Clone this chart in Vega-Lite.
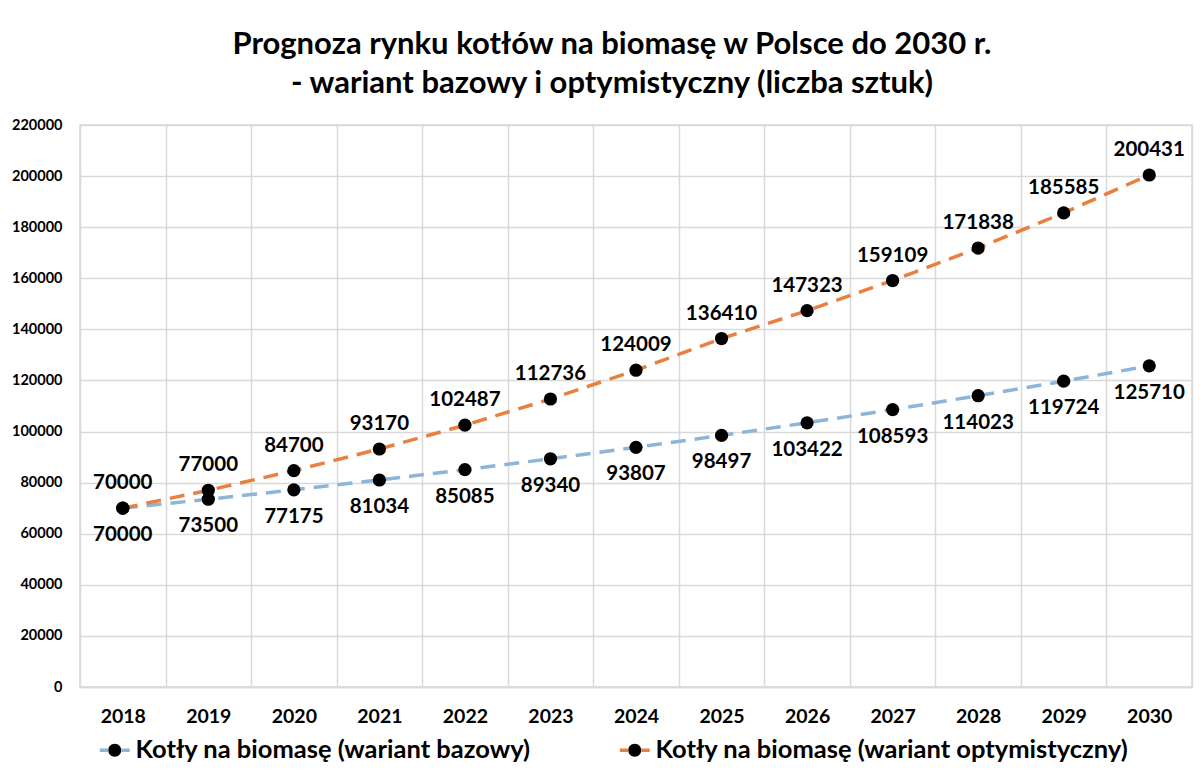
{
  "$schema": "https://vega.github.io/schema/vega-lite/v6.json",
  "width": 1112,
  "height": 562,
  "autosize": {"type": "none"},
  "padding": {"left": 80, "top": 125, "right": 12, "bottom": 95},
  "background": "white",
  "config": {
    "font": "Lato",
    "view": {"stroke": "#d9d9d9", "strokeWidth": 1.5}
  },
  "title": {
    "text": ["Prognoza rynku kotłów na biomasę  w Polsce do 2030 r.", "- wariant bazowy i optymistyczny (liczba sztuk)"],
    "font": "Lato",
    "fontSize": 31,
    "fontWeight": "bold",
    "color": "#000000",
    "anchor": "middle",
    "frame": "group",
    "dx": -24,
    "offset": 17,
    "lineHeight": 39
  },
  "data": {
    "values": [
      {"year": "2018", "series": "Kotły na biomasę (wariant bazowy)", "value": 70000},
      {"year": "2019", "series": "Kotły na biomasę (wariant bazowy)", "value": 73500},
      {"year": "2020", "series": "Kotły na biomasę (wariant bazowy)", "value": 77175},
      {"year": "2021", "series": "Kotły na biomasę (wariant bazowy)", "value": 81034},
      {"year": "2022", "series": "Kotły na biomasę (wariant bazowy)", "value": 85085},
      {"year": "2023", "series": "Kotły na biomasę (wariant bazowy)", "value": 89340},
      {"year": "2024", "series": "Kotły na biomasę (wariant bazowy)", "value": 93807},
      {"year": "2025", "series": "Kotły na biomasę (wariant bazowy)", "value": 98497},
      {"year": "2026", "series": "Kotły na biomasę (wariant bazowy)", "value": 103422},
      {"year": "2027", "series": "Kotły na biomasę (wariant bazowy)", "value": 108593},
      {"year": "2028", "series": "Kotły na biomasę (wariant bazowy)", "value": 114023},
      {"year": "2029", "series": "Kotły na biomasę (wariant bazowy)", "value": 119724},
      {"year": "2030", "series": "Kotły na biomasę (wariant bazowy)", "value": 125710},
      {"year": "2018", "series": "Kotły na biomasę (wariant optymistyczny)", "value": 70000},
      {"year": "2019", "series": "Kotły na biomasę (wariant optymistyczny)", "value": 77000},
      {"year": "2020", "series": "Kotły na biomasę (wariant optymistyczny)", "value": 84700},
      {"year": "2021", "series": "Kotły na biomasę (wariant optymistyczny)", "value": 93170},
      {"year": "2022", "series": "Kotły na biomasę (wariant optymistyczny)", "value": 102487},
      {"year": "2023", "series": "Kotły na biomasę (wariant optymistyczny)", "value": 112736},
      {"year": "2024", "series": "Kotły na biomasę (wariant optymistyczny)", "value": 124009},
      {"year": "2025", "series": "Kotły na biomasę (wariant optymistyczny)", "value": 136410},
      {"year": "2026", "series": "Kotły na biomasę (wariant optymistyczny)", "value": 147323},
      {"year": "2027", "series": "Kotły na biomasę (wariant optymistyczny)", "value": 159109},
      {"year": "2028", "series": "Kotły na biomasę (wariant optymistyczny)", "value": 171838},
      {"year": "2029", "series": "Kotły na biomasę (wariant optymistyczny)", "value": 185585},
      {"year": "2030", "series": "Kotły na biomasę (wariant optymistyczny)", "value": 200431}
    ]
  },
  "encoding": {
    "x": {
      "field": "year",
      "type": "ordinal",
      "bandPosition": 0.5,
      "scale": {"type": "band", "paddingInner": 0, "paddingOuter": 0},
      "axis": {
        "title": null,
        "tickBand": "extent",
        "grid": true,
        "gridColor": "#d9d9d9",
        "gridWidth": 1.5,
        "ticks": false,
        "tickSize": 0,
        "domain": true,
        "domainColor": "#d9d9d9",
        "domainWidth": 1.5,
        "labelAngle": 0,
        "labelFont": "Lato",
        "labelFontSize": 19.5,
        "labelFontWeight": "bold",
        "labelColor": "#000000",
        "labelPadding": 20
      }
    },
    "y": {
      "field": "value",
      "type": "quantitative",
      "scale": {"domain": [0, 220000], "nice": false},
      "axis": {
        "title": null,
        "values": [0, 20000, 40000, 60000, 80000, 100000, 120000, 140000, 160000, 180000, 200000, 220000],
        "format": "d",
        "grid": true,
        "gridColor": "#d9d9d9",
        "gridWidth": 1.5,
        "ticks": false,
        "tickSize": 0,
        "domain": false,
        "labelFont": "Lato",
        "labelFontSize": 14.5,
        "labelFontWeight": "bold",
        "labelColor": "#000000",
        "labelPadding": 18
      }
    }
  },
  "layer": [
    {
      "mark": {"type": "line", "strokeDash": [15, 9], "strokeWidth": 3.5},
      "encoding": {
        "color": {
          "field": "series",
          "type": "nominal",
          "scale": {
            "domain": ["Kotły na biomasę (wariant bazowy)", "Kotły na biomasę (wariant optymistyczny)"],
            "range": ["#8db4d9", "#e8803f"]
          },
          "legend": {
            "title": null,
            "orient": "none",
            "direction": "horizontal",
            "legendX": 22,
            "legendY": 612,
            "padding": 0,
            "symbolType": "M-1,0L-2.3,0L-1,0L-2.3,0L-1,0L-2.3,0L-1,0M1,0L2.3,0L1,0L2.3,0L1,0L2.3,0L1,0M1,0A1,1 0 1,1 -1,0A1,1 0 1,1 1,0Z",
            "symbolSize": 169,
            "symbolStrokeWidth": 3.5,
            "symbolDash": [0, 42, 8.7, 100],
            "symbolFillColor": "#000000",
            "symbolOpacity": 1,
            "labelFont": "Lato",
            "labelFontSize": 25.5,
            "labelFontWeight": "bold",
            "labelColor": "#000000",
            "labelOffset": 8,
            "labelLimit": 700,
            "columnPadding": 81,
            "encode": {"symbols": {"update": {"fill": {"value": "#000000"}, "fillOpacity": {"value": 1}}}}
          }
        }
      }
    },
    {
      "mark": {"type": "circle", "size": 175, "color": "#000000", "opacity": 1}
    },
    {
      "transform": [{"filter": "datum.series === 'Kotły na biomasę (wariant optymistyczny)'"}],
      "mark": {"type": "text", "dy": -25, "font": "Lato", "fontSize": 20.5, "fontWeight": "bold", "color": "#000000"},
      "encoding": {"text": {"field": "value", "type": "quantitative", "format": "d"}}
    },
    {
      "transform": [{"filter": "datum.series === 'Kotły na biomasę (wariant bazowy)'"}],
      "mark": {"type": "text", "dy": 27, "font": "Lato", "fontSize": 20.5, "fontWeight": "bold", "color": "#000000"},
      "encoding": {"text": {"field": "value", "type": "quantitative", "format": "d"}}
    }
  ]
}
